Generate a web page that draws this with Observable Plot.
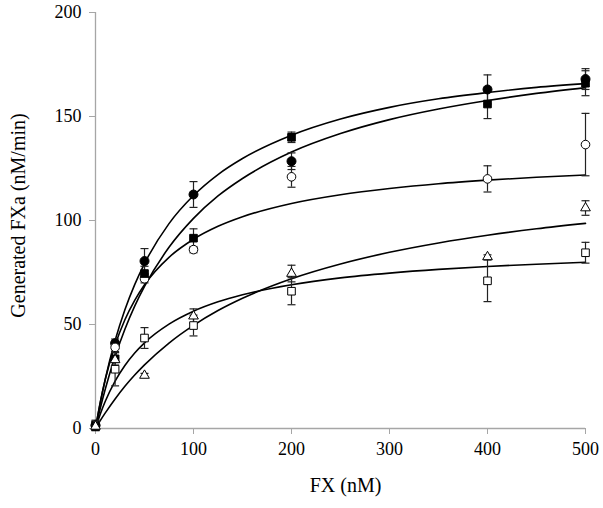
<!DOCTYPE html>
<html>
<head>
<meta charset="utf-8">
<script src="https://cdn.jsdelivr.net/npm/d3@7"></script>
<script src="https://cdn.jsdelivr.net/npm/@observablehq/plot@0.6"></script>
<style>
  html, body { margin: 0; padding: 0; background: #fff; }
  #chart { width: 603px; height: 508px; }
</style>
</head>
<body>
<div id="chart"></div>
<script>
// FX concentrations (nM)
const fx = [0, 20, 50, 100, 200, 400, 500];

// Measured rates (nM/min) and error bars
const filledCircle    = [1.5, 41, 80.5, 112.5, 128.5, 163, 168];
const filledCircleErr = [2.5, 2, 6, 6.2, 4, 7, 5];
const filledSquare    = [1, 33.5, 74.5, 91.5, 140, 156, 166];
const filledSquareErr = [2, 3, 3.5, 4.5, 2.5, 7, 6];
const openCircle      = [1.5, 39, 72, 86, 121, 120, 136.5];
const openCircleErr   = [2, 2, 2, 1.5, 5, 6.3, 15];
const openTriangle    = [1, 33, 25.5, 54, 74.5, 82.5, 106];
const openTriangleErr = [1, 1, 1, 3.5, 4, 1, 3.5];
const openSquare      = [1.5, 28.5, 43.5, 49.5, 66, 71, 84.5];
const openSquareErr   = [2, 8, 5, 5, 6.5, 10, 5];

// Fitted curves
const curveX = [0, 5, 10, 20, 30, 40, 50, 75, 100, 125, 150, 200, 250, 300, 350, 400, 450, 500];
const curve1 = [0, 12.7, 23.8, 42.3, 57.1, 69.2, 79.3, 98.5, 112.0, 122.1, 129.8, 141.0, 148.8, 154.4, 158.5, 161.5, 164.0, 165.8];
const curve2 = [0, 10.0, 19.0, 34.6, 47.7, 58.8, 68.3, 87.1, 101.0, 111.8, 120.2, 132.9, 141.8, 148.5, 153.6, 157.7, 161.1, 163.9];
const curve3 = [0, 12.9, 23.6, 40.1, 52.3, 61.6, 69.1, 82.3, 91.0, 97.2, 101.8, 108.2, 112.4, 115.4, 117.7, 119.4, 120.8, 121.9];
const curve4 = [0, 3.9, 7.5, 14.2, 20.3, 25.7, 30.6, 41.1, 49.6, 56.7, 62.6, 72.0, 79.1, 84.7, 89.2, 92.9, 96.0, 98.6];
const curve5 = [0, 7.1, 13.1, 22.8, 30.3, 36.3, 41.2, 50.2, 56.4, 60.9, 64.3, 69.1, 72.4, 74.7, 76.5, 77.9, 79.0, 79.9];

const xTicks = [0, 100, 200, 300, 400, 500];
const yTicks = [0, 50, 100, 150, 200];
const xTitle = "FX (nM)";
const yTitle = "Generated FXa (nM/min)";

const seriesDefs = [
  {name: "openTriangle", vals: openTriangle, errs: openTriangleErr, symbol: "triangle", fill: "white", r: 3.6},
  {name: "openSquare", vals: openSquare, errs: openSquareErr, symbol: "square", fill: "white", r: 4.3},
  {name: "openCircle", vals: openCircle, errs: openCircleErr, symbol: "circle", fill: "white", r: 4.3},
  {name: "filledSquare", vals: filledSquare, errs: filledSquareErr, symbol: "square", fill: "black", r: 4.3},
  {name: "filledCircle", vals: filledCircle, errs: filledCircleErr, symbol: "circle", fill: "black", r: 4.5}
];

const points = seriesDefs.flatMap(s => fx.map((x, i) => ({
  series: s.name, x, y: s.vals[i], lo: s.vals[i] - s.errs[i], hi: s.vals[i] + s.errs[i],
  symbol: s.symbol, fill: s.fill, r: s.r
})));

const curves = [curve1, curve2, curve3, curve4, curve5].flatMap((c, k) =>
  curveX.map((x, i) => ({curve: k, x, y: c[i]})));

const cap = {
  draw(context, size) {
    const r = Math.sqrt(size / Math.PI);
    context.moveTo(-r, 0);
    context.lineTo(r, 0);
  }
};
const caps = points.flatMap(p => [{x: p.x, y: p.lo}, {x: p.x, y: p.hi}]);

const axisGray = "#a6a6a6";

const chart = Plot.plot({
  width: 603,
  height: 508,
  marginLeft: 95,
  marginRight: 18,
  marginTop: 12,
  marginBottom: 80,
  style: {fontFamily: "'Liberation Serif', 'Times New Roman', serif", fontSize: "18px", color: "black", background: "white"},
  x: {domain: [0, 500]},
  y: {domain: [0, 200]},
  r: {type: "identity"},
  marks: [
    Plot.ruleY([0], {stroke: axisGray, strokeWidth: 1.3}),
    Plot.ruleX([0], {stroke: axisGray, strokeWidth: 1.3}),
    Plot.axisX({ticks: xTicks, tickFormat: d => d, tickSize: 6, tickPadding: 8, stroke: axisGray, fill: "black", fontSize: 18, label: null}),
    Plot.axisY({ticks: yTicks, tickFormat: d => d, tickSize: 6, tickPadding: 8, stroke: axisGray, fill: "black", fontSize: 18, label: null}),
    Plot.line(curves, {x: "x", y: "y", z: "curve", stroke: "black", strokeWidth: 1.6, curve: "monotone-x"}),
    Plot.ruleX(points, {x: "x", y1: "lo", y2: "hi", stroke: "#222", strokeWidth: 1.2}),
    Plot.dot(caps, {x: "x", y: "y", symbol: cap, r: 4, stroke: "#222", strokeWidth: 1.2, fill: "none"}),
    Plot.dot(points, {x: "x", y: "y", symbol: "symbol", fill: "fill", stroke: "black", strokeWidth: 1, r: "r"}),
    Plot.text([yTitle], {text: d => d, frameAnchor: "left", textAnchor: "middle", dx: -77, dy: -5, rotate: -90, fontSize: 20, fill: "black"}),
    Plot.text([xTitle], {text: d => d, frameAnchor: "bottom", textAnchor: "middle", dy: 63, dx: 5, fontSize: 20, fill: "black"})
  ]
});

document.getElementById("chart").appendChild(chart);
</script>
</body>
</html>
